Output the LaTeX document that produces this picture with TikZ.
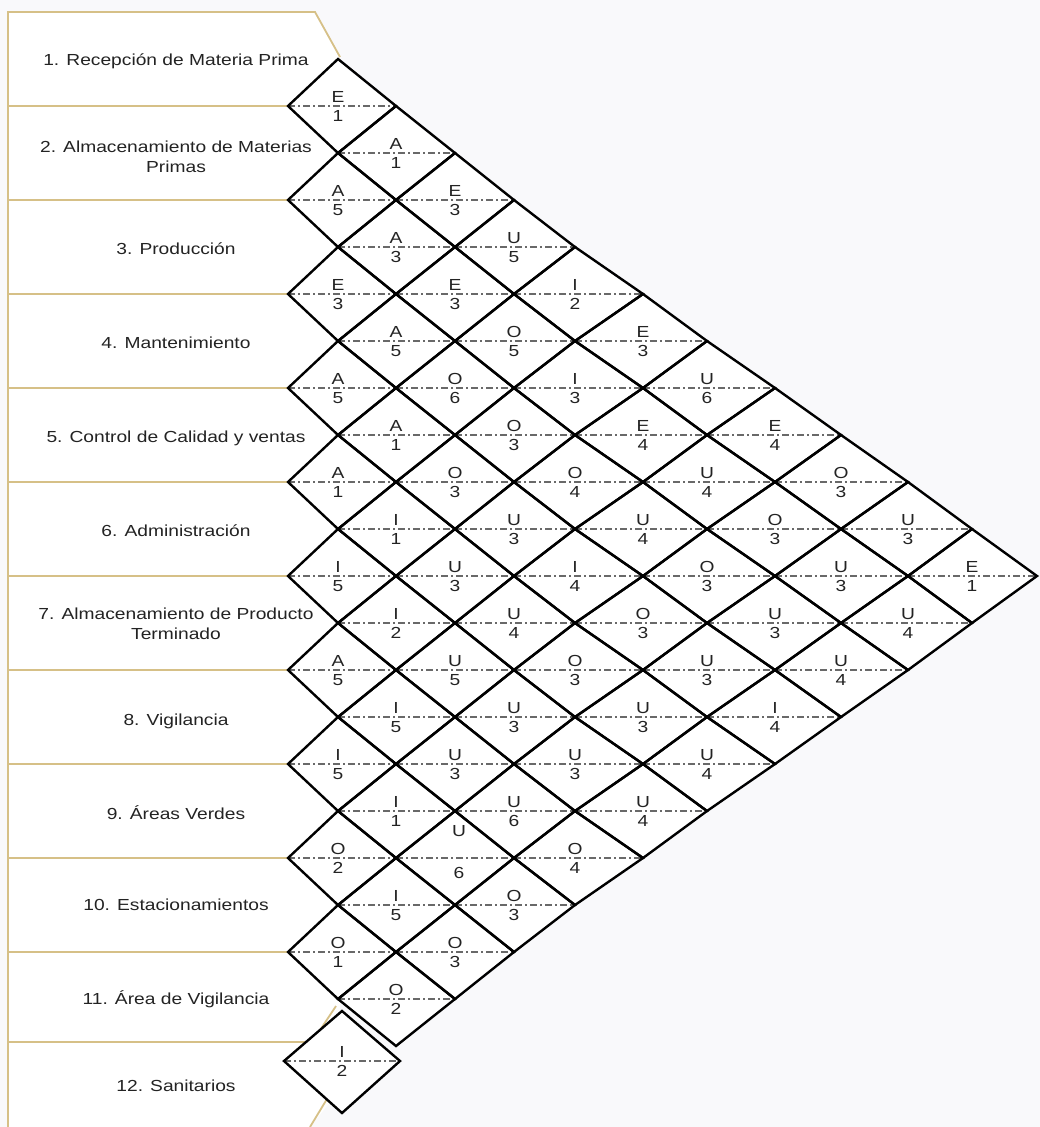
\documentclass[tikz,border=0pt]{standalone}
\usepackage{fontspec}
\setmainfont{Liberation Sans}[FakeStretch=1.2]
\definecolor{bgc}{RGB}{249,249,251}
\definecolor{tanc}{RGB}{214,192,135}
\definecolor{txtc}{RGB}{35,35,35}
\definecolor{dashc}{RGB}{105,105,105}
\def\hx{{288,338,396,455,514,575,643,707,775,841,908,972,1037}}
\def\rels{1/2/E/1,2/3/A/5,3/4/E/3,4/5/A/5,5/6/A/1,6/7/I/5,7/8/A/5,8/9/I/5,9/10/O/2,10/11/O/1,
1/3/A/1,2/4/A/3,3/5/A/5,4/6/A/1,5/7/I/1,6/8/I/2,7/9/I/5,8/10/I/1,9/11/I/5,10/12/O/2,
1/4/E/3,2/5/E/3,3/6/O/6,4/7/O/3,5/8/U/3,6/9/U/5,7/10/U/3,8/11/U/6,9/12/O/3,
1/5/U/5,2/6/O/5,3/7/O/3,4/8/U/3,5/9/U/4,6/10/U/3,7/11/U/6,8/12/O/3,
1/6/I/2,2/7/I/3,3/8/O/4,4/9/I/4,5/10/O/3,6/11/U/3,7/12/O/4,
1/7/E/3,2/8/E/4,3/9/U/4,4/10/O/3,5/11/U/3,6/12/U/4,
1/8/U/6,2/9/U/4,3/10/O/3,4/11/U/3,5/12/U/4,
1/9/E/4,2/10/O/3,3/11/U/3,4/12/I/4,
1/10/O/3,2/11/U/3,3/12/U/4,
1/11/U/3,2/12/U/4,
1/12/E/1}
\newcommand\diageom[2]{%
  \pgfmathtruncatemacro\dK{#2-#1}%
  \pgfmathsetmacro\dXc{\hx[\dK]}%
  \pgfmathsetmacro\dXl{\hx[\dK-1]}%
  \pgfmathsetmacro\dXr{\hx[\dK+1]}%
  \pgfmathsetmacro\dYc{12+47*(#1+#2-1)}}
\begin{document}
\begin{tikzpicture}[x=1pt,y=-1pt,
  dept/.style={font=\fontsize{16}{20}\selectfont, text=txtc, align=center, inner sep=0pt},
  lbl/.style={font=\fontsize{16}{20}\selectfont, text=txtc, inner sep=0pt, anchor=base},
  dia/.style={draw=black, line width=2.4pt, line join=miter},
  dashl/.style={draw=dashc, line width=1.2pt, dash pattern=on 7pt off 3pt on 2pt off 3pt},
  tanl/.style={draw=tanc, line width=1.8pt}]
\fill[bgc] (0,0) rectangle (1040,1127);
\useasboundingbox (0,0) rectangle (1040,1127);
% left panel
\fill[white] (8,12) -- (315,12) -- (340,57) -- (340,1090) -- (310,1127) -- (8,1127) -- cycle;
\draw[tanl] (8,1127) -- (8,12) -- (315,12) -- (340,57);
\foreach \m in {1,...,10} {\draw[tanl] (8,{12+94*\m}) -- (300,{12+94*\m});}
\draw[tanl] (8,1042) -- (312,1042) -- (336,1006);
\draw[tanl] (310,1127) -- (330,1094);
% department labels
\node[dept,anchor=base] (d1) at (176,65) {1. Recepción de Materia Prima};
\node[dept,anchor=center] (d2) at (176,157) {2. Almacenamiento de Materias\\Primas};
\node[dept,anchor=base] (d3) at (176,254) {3. Producción};
\node[dept,anchor=base] (d4) at (176,348) {4. Mantenimiento};
\node[dept,anchor=base] (d5) at (176,442) {5. Control de Calidad y ventas};
\node[dept,anchor=base] (d6) at (176,536) {6. Administración};
\node[dept,anchor=center] (d7) at (176,624) {7. Almacenamiento de Producto\\Terminado};
\node[dept,anchor=base] (d8) at (176,725) {8. Vigilancia};
\node[dept,anchor=base] (d9) at (176,819) {9. Áreas Verdes};
\node[dept,anchor=base] (d10) at (176,910) {10. Estacionamientos};
\node[dept,anchor=base] (d11) at (176,1004) {11. Área de Vigilancia};
\node[dept,anchor=base] (d12) at (176,1091) {12. Sanitarios};
% diamonds: fill
\foreach \i/\j/\L/\N in \rels {
  \diageom{\i}{\j}
  \fill[white] (\dXl,\dYc) -- (\dXc,\dYc-47) -- (\dXr,\dYc) -- (\dXc,\dYc+47) -- cycle;
}
% dash lines
\foreach \i/\j/\L/\N in \rels {
  \diageom{\i}{\j}
  \draw[dashl] (\dXl,\dYc) -- (\dXr,\dYc);
}
% borders
\foreach \i/\j/\L/\N in \rels {
  \diageom{\i}{\j}
  \draw[dia] (\dXl,\dYc) -- (\dXc,\dYc-47) -- (\dXr,\dYc) -- (\dXc,\dYc+47) -- cycle;
}
% labels
\foreach \i/\j/\L/\N in \rels {
  \diageom{\i}{\j}
  \ifnum\numexpr100*\i+\j\relax=811
    \node[lbl] (l\i-\j) at (\dXc+4,\dYc-22) {\L};
    \node[lbl] (n\i-\j) at (\dXc+4,\dYc+20) {\N};
  \else
    \node[lbl] (l\i-\j) at (\dXc,\dYc-4) {\L};
    \node[lbl] (n\i-\j) at (\dXc,\dYc+15) {\N};
  \fi
}
% shifted last diamond (11,12)
\fill[white] (284,1061) -- (342,1011) -- (400,1061) -- (342,1113) -- cycle;
\draw[dashl] (284,1061) -- (400,1061);
\draw[dia] (284,1061) -- (342,1011) -- (400,1061) -- (342,1113) -- cycle;
\node[lbl] (l11-12) at (342,1057) {I};
\node[lbl] (n11-12) at (342,1076) {2};
\end{tikzpicture}
\end{document}
